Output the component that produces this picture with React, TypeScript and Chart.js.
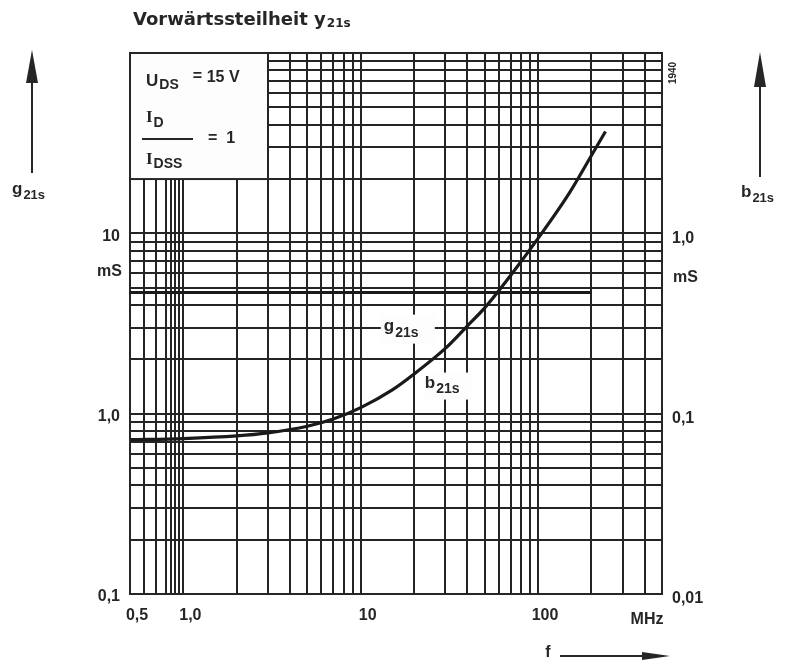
import React, { useEffect, useRef } from "react";
import { Chart, registerables } from "chart.js";

Chart.register(...registerables);

// ---- data ----
const xGridValues = [0.5, 0.6, 0.7, 0.8, 0.85, 0.9, 0.95, 1, 2, 3, 4, 5, 6, 7, 8, 9, 10, 20, 30, 40, 50, 60, 70, 80, 90, 100, 200, 300, 400, 500];
const yGridValues = [0.1, 0.2, 0.3, 0.4, 0.5, 0.6, 0.7, 0.8, 0.9, 1, 2, 3, 4, 5, 6, 7, 8, 9, 10, 20, 30, 40, 50, 60, 70, 80, 90, 100];

const xLabelValues = [0.5, 1, 10, 100];
const xLabelTexts = ["0,5", "1,0", "10", "100"];
const leftLabelValues = [0.1, 1, 10];
const leftLabelTexts = ["0,1", "1,0", "10"];
const rightLabelValues = [0.01, 0.1, 1];
const rightLabelTexts = ["0,01", "0,1", "1,0"];

// g21s (left axis, mS)
const gFreq = [0.5, 200];
const gValues = [4.7, 4.7];

// b21s (right axis, mS)
const bFreq = [0.5, 1, 2, 3, 5, 7, 10, 15, 20, 30, 40, 50, 70, 100, 150, 200, 240];
const bValues = [0.0717, 0.0728, 0.0753, 0.0783, 0.0851, 0.0933, 0.108, 0.135, 0.166, 0.23, 0.307, 0.386, 0.584, 0.937, 1.67, 2.7, 3.67];

const INK = "#262626";
const FONT = '"Liberation Sans", Arial, sans-serif';

function drawSub(
  ctx: CanvasRenderingContext2D,
  x: number,
  y: number,
  main: string,
  sub: string,
  mainSize: number,
  subSize: number,
  subDy: number,
  align: "left" | "right" | "center" = "left",
  mainFontFamily: string = FONT
) {
  const mf = `bold ${mainSize}px ${mainFontFamily}`;
  const sf = `bold ${subSize}px ${FONT}`;
  ctx.font = mf;
  const mw = ctx.measureText(main).width;
  ctx.font = sf;
  const sw = ctx.measureText(sub).width;
  const total = mw + sw + 1;
  let sx = x;
  if (align === "right") sx = x - total;
  if (align === "center") sx = x - total / 2;
  ctx.textAlign = "left";
  ctx.textBaseline = "middle";
  ctx.font = mf;
  ctx.fillText(main, sx, y);
  ctx.font = sf;
  ctx.fillText(sub, sx + mw + 1, y + subDy);
  return sx + total;
}

function arrow(ctx: CanvasRenderingContext2D, x1: number, y1: number, x2: number, y2: number, headLen: number, headHalf: number) {
  const ang = Math.atan2(y2 - y1, x2 - x1);
  const bx = x2 - headLen * Math.cos(ang);
  const by = y2 - headLen * Math.sin(ang);
  ctx.beginPath();
  ctx.moveTo(x1, y1);
  ctx.lineTo(bx, by);
  ctx.lineWidth = 2;
  ctx.strokeStyle = INK;
  ctx.stroke();
  ctx.beginPath();
  ctx.moveTo(x2, y2);
  ctx.lineTo(bx + headHalf * Math.sin(ang), by - headHalf * Math.cos(ang));
  ctx.lineTo(bx - headHalf * Math.sin(ang), by + headHalf * Math.cos(ang));
  ctx.closePath();
  ctx.fillStyle = INK;
  ctx.fill();
}

const App = () => {
  const ref = useRef<HTMLCanvasElement>(null);

  useEffect(() => {
    const canvas = ref.current!;

    const overlay = {
      id: "overlay",
      beforeDatasetsDraw(chart: any) {
        const ctx: CanvasRenderingContext2D = chart.ctx;
        const xs = chart.scales.x;
        const ys = chart.scales.y;
        ctx.save();
        // annotation box: blank the grid
        const bx1 = xs.getPixelForValue(0.5);
        const bx2 = xs.getPixelForValue(3);
        const by1 = ys.getPixelForValue(100);
        const by2 = ys.getPixelForValue(20);
        ctx.fillStyle = "#fdfdfd";
        ctx.fillRect(bx1, by1, bx2 - bx1, by2 - by1);
        ctx.strokeStyle = INK;
        ctx.lineWidth = 2;
        ctx.strokeRect(bx1, by1, bx2 - bx1, by2 - by1);
        // label backgrounds
        const gx = xs.getPixelForValue(13.5);
        const gy = ys.getPixelForValue(3);
        ctx.fillStyle = "#fdfdfd";
        ctx.fillRect(gx - 3, gy - 13, 54, 29);
        const bxl = xs.getPixelForValue(23);
        const byl = ys.getPixelForValue(1.45);
        ctx.fillRect(bxl - 2, byl - 12, 48, 27);
        ctx.restore();
      },
      afterDraw(chart: any) {
        const ctx: CanvasRenderingContext2D = chart.ctx;
        const xs = chart.scales.x;
        const ys = chart.scales.y;
        const y2 = chart.scales.y2;
        const area = chart.chartArea;
        ctx.save();
        ctx.fillStyle = INK;

        // title
        ctx.font = `bold 18px "DejaVu Sans", sans-serif`;
        ctx.textAlign = "left";
        ctx.textBaseline = "alphabetic";
        ctx.fillText("Vorwärtssteilheit ", area.left + 3, 25);
        const tEnd = area.left + 3 + ctx.measureText("Vorwärtssteilheit ").width;
        ctx.fillText("y", tEnd, 25);
        const yw = ctx.measureText("y").width;
        ctx.font = `bold 12px "DejaVu Sans", sans-serif`;
        ctx.fillText("21s", tEnd + yw + 1, 27);

        // x labels
        ctx.font = `bold 16px ${FONT}`;
        ctx.textBaseline = "middle";
        ctx.textAlign = "center";
        xLabelValues.forEach((v, i) => {
          ctx.fillText(xLabelTexts[i], xs.getPixelForValue(v) + 7, area.bottom + 22);
        });
        ctx.fillText("MHz", area.right - 15, area.bottom + 26);

        // left labels
        ctx.textAlign = "right";
        leftLabelValues.forEach((v, i) => {
          ctx.fillText(leftLabelTexts[i], area.left - 10, ys.getPixelForValue(v) + 3);
        });
        ctx.fillText("mS", area.left - 8, ys.getPixelForValue(10) + 38);

        // right labels
        ctx.textAlign = "left";
        rightLabelValues.forEach((v, i) => {
          ctx.fillText(rightLabelTexts[i], area.right + 10, y2.getPixelForValue(v) + 5);
        });
        ctx.fillText("mS", area.right + 11, y2.getPixelForValue(1) + 44);

        // axis quantity labels with arrows
        arrow(ctx, 32, 173, 32, 50, 33, 6);
        drawSub(ctx, 12, 189, "g", "21s", 17, 13, 6);
        arrow(ctx, 760, 177, 760, 52, 35, 6);
        drawSub(ctx, 741, 192, "b", "21s", 17, 13, 6);

        // f arrow
        ctx.font = `bold 16px ${FONT}`;
        ctx.textAlign = "center";
        ctx.textBaseline = "middle";
        ctx.fillText("f", 548, 653);
        arrow(ctx, 560, 656, 670, 656, 28, 4);

        // 1940 rotated
        ctx.save();
        ctx.translate(area.right + 11, area.top + 20);
        ctx.rotate(-Math.PI / 2);
        ctx.font = `bold 10px ${FONT}`;
        ctx.textAlign = "center";
        ctx.textBaseline = "middle";
        ctx.fillText("1940", 0, 0);
        ctx.restore();

        // in-plot labels
        const gx = xs.getPixelForValue(13.5);
        const gy = ys.getPixelForValue(3);
        drawSub(ctx, gx, gy - 1, "g", "21s", 17, 14, 7);
        const bxl = xs.getPixelForValue(23);
        const byl = ys.getPixelForValue(1.45);
        drawSub(ctx, bxl, byl - 1, "b", "21s", 17, 14, 6);

        // annotation box text
        const bl = xs.getPixelForValue(0.5);
        const bt = ys.getPixelForValue(100);
        const e1 = drawSub(ctx, bl + 16, bt + 28, "U", "DS", 17, 14, 4);
        ctx.font = `bold 16px ${FONT}`;
        ctx.textAlign = "left";
        ctx.textBaseline = "middle";
        ctx.fillText("=", e1 + 14, bt + 24);
        ctx.fillText("15 V", e1 + 28, bt + 25);
        drawSub(ctx, bl + 16, bt + 65, "I", "D", 17, 14, 5, "left", '"Liberation Serif", serif');
        ctx.beginPath();
        ctx.moveTo(bl + 12, bt + 86);
        ctx.lineTo(bl + 63, bt + 86);
        ctx.lineWidth = 2;
        ctx.strokeStyle = INK;
        ctx.stroke();
        ctx.font = `bold 16px ${FONT}`;
        ctx.textAlign = "left";
        ctx.fillText("=  1", bl + 78, bt + 86);
        drawSub(ctx, bl + 16, bt + 107, "I", "DSS", 17, 14, 4, "left", '"Liberation Serif", serif');

        ctx.restore();
      },
    };

    const gridOpts = { color: "#242424", lineWidth: 2, drawTicks: false };

    const chart = new Chart(canvas, {
      type: "line",
      data: {
        datasets: [
          {
            label: "g21s",
            data: gFreq.map((f, i) => ({ x: f, y: gValues[i] })),
            yAxisID: "y",
            borderColor: "#1a1a1a",
            borderWidth: 3,
            pointRadius: 0,
            fill: false,
          },
          {
            label: "b21s",
            data: bFreq.map((f, i) => ({ x: f, y: bValues[i] })),
            yAxisID: "y2",
            borderColor: "#1a1a1a",
            borderWidth: 3.2,
            pointRadius: 0,
            fill: false,
            cubicInterpolationMode: "monotone",
          },
        ],
      },
      options: {
        responsive: false,
        animation: false,
        events: [],
        layout: { padding: { left: 130, right: 124, top: 53, bottom: 71 } },
        plugins: { legend: { display: false }, tooltip: { enabled: false }, title: { display: false } },
        scales: {
          x: {
            type: "logarithmic",
            min: 0.5,
            max: 500,
            afterBuildTicks: (s: any) => {
              s.ticks = xGridValues.map((v) => ({ value: v }));
            },
            ticks: { display: false },
            grid: gridOpts,
            border: { display: true, color: INK, width: 2 },
          },
          y: {
            type: "logarithmic",
            position: "left",
            min: 0.1,
            max: 100,
            afterBuildTicks: (s: any) => {
              s.ticks = yGridValues.map((v) => ({ value: v }));
            },
            ticks: { display: false },
            grid: gridOpts,
            border: { display: true, color: INK, width: 2 },
          },
          y2: {
            type: "logarithmic",
            position: "right",
            min: 0.01,
            max: 10,
            ticks: { display: false },
            grid: { display: false, drawTicks: false },
            border: { display: true, color: INK, width: 2 },
          },
        },
      },
      plugins: [overlay],
    } as any);

    return () => chart.destroy();
  }, []);

  return (
    <div style={{ position: "absolute", left: 0, top: 0, width: 786, height: 665, background: "#fff" }}>
      <canvas ref={ref} width={786} height={665} style={{ width: 786, height: 665, display: "block" }} />
    </div>
  );
};

export default App;
